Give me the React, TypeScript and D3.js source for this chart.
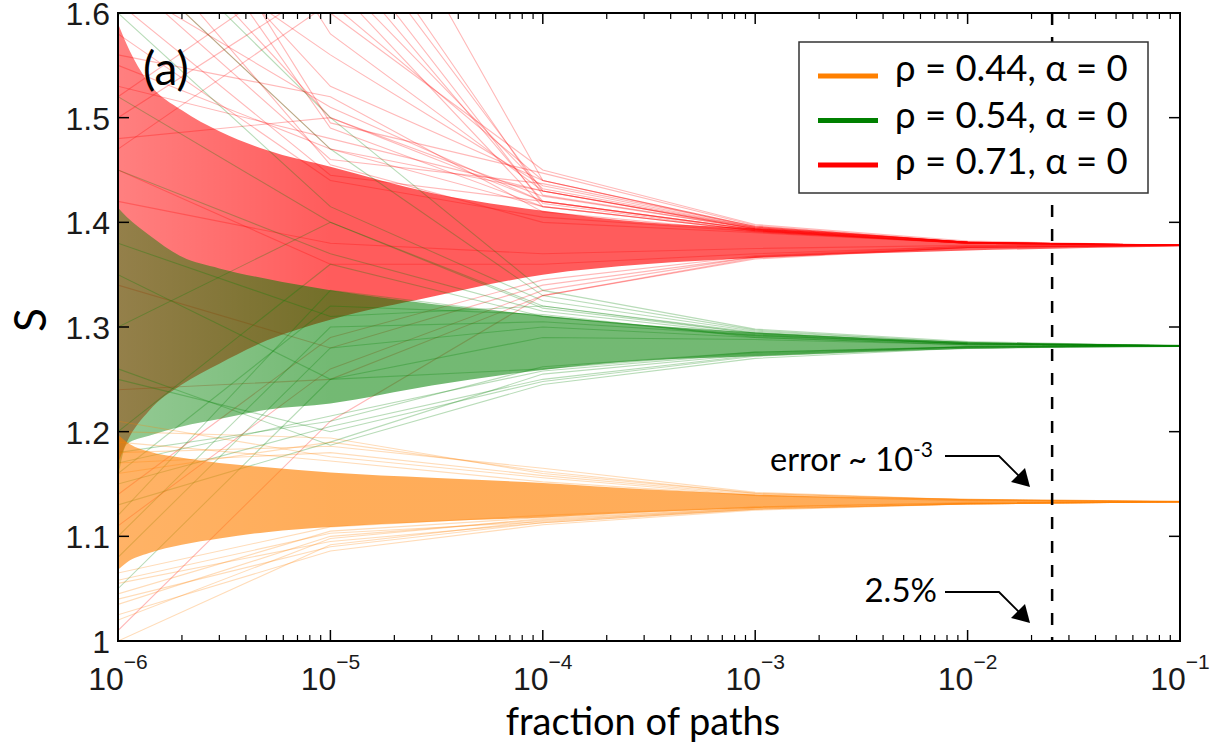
import * as d3 from "d3";

const width = 1231;
const height = 751;
const plot = { left: 118, top: 13, right: 1180, bottom: 641 };

// x decades where every path has a value
const decades = [1e-6, 1e-5, 1e-4, 1e-3, 1e-2, 1e-1];
const decadeExp = ["\u22126", "\u22125", "\u22124", "\u22123", "\u22122", "\u22121"];
const yTicks = [1, 1.1, 1.2, 1.3, 1.4, 1.5, 1.6];
const yTickLabels = ["1", "1.1", "1.2", "1.3", "1.4", "1.5", "1.6"];

// envelope of the whole bundle of paths
const envX = [1e-6, 1.1e-6, 1.4e-6, 2e-6, 3e-6, 5e-6, 1e-5, 3e-5, 1e-4, 3e-4, 1e-3, 1e-2, 1e-1];
const redUpper = [1.59, 1.57, 1.533, 1.507, 1.487, 1.469, 1.453, 1.428, 1.411, 1.4, 1.394, 1.382, 1.379];
const redLower = [1.17, 1.19, 1.22, 1.245, 1.265, 1.287, 1.307, 1.329, 1.35, 1.36, 1.366, 1.373, 1.377];
const greenUpper = [1.414, 1.405, 1.388, 1.367, 1.356, 1.346, 1.335, 1.322, 1.311, 1.302, 1.295, 1.286, 1.283];
const greenLower = [1.155, 1.188, 1.196, 1.205, 1.212, 1.221, 1.227, 1.244, 1.259, 1.268, 1.272, 1.279, 1.281];
const orangeUpper = [1.197, 1.19, 1.181, 1.175, 1.17, 1.166, 1.161, 1.156, 1.151, 1.145, 1.14, 1.136, 1.134];
const orangeLower = [1.068, 1.075, 1.084, 1.092, 1.098, 1.104, 1.109, 1.114, 1.118, 1.123, 1.127, 1.131, 1.132];

// stray paths, values at the decades
const redPaths = [
  [1.72, 1.5, 1.425, 1.394, 1.381, 1.378],
  [1.78, 1.49, 1.415, 1.392, 1.38, 1.378],
  [1.66, 1.47, 1.43, 1.395, 1.381, 1.378],
  [1.64, 1.46, 1.437, 1.396, 1.381, 1.378],
  [1.82, 1.495, 1.447, 1.397, 1.381, 1.378],
  [1.61, 1.445, 1.42, 1.393, 1.38, 1.378],
  [1.95, 1.72, 1.426, 1.394, 1.381, 1.378],
  [2.05, 1.68, 1.418, 1.392, 1.38, 1.378],
  [1.88, 1.64, 1.432, 1.395, 1.381, 1.378],
  [1.5, 1.63, 1.415, 1.392, 1.38, 1.378],
  [1.47, 1.61, 1.44, 1.396, 1.381, 1.378],
  [1.56, 1.52, 1.41, 1.391, 1.38, 1.378],
  [1.53, 1.48, 1.43, 1.394, 1.381, 1.378],
  [1.69, 1.455, 1.4, 1.39, 1.38, 1.378],
  [1.58, 1.44, 1.405, 1.391, 1.38, 1.378],
  [1.75, 1.53, 1.44, 1.395, 1.381, 1.378],
  [1.9, 1.58, 1.43, 1.394, 1.381, 1.378],
  [1.63, 1.51, 1.42, 1.393, 1.381, 1.378],
  [1.85, 1.6, 1.45, 1.398, 1.382, 1.378],
  [1.7, 1.56, 1.435, 1.395, 1.381, 1.378],
  [1.55, 1.47, 1.415, 1.392, 1.38, 1.378],
  [2.2, 1.8, 1.44, 1.396, 1.381, 1.378],
  [1.6, 1.7, 1.43, 1.394, 1.381, 1.378],
  [1.52, 1.66, 1.42, 1.393, 1.38, 1.378],
  [1.48, 1.5, 1.42, 1.393, 1.38, 1.378],
  [1.01, 1.21, 1.33, 1.365, 1.376, 1.378],
  [1.11, 1.26, 1.335, 1.367, 1.376, 1.378],
  [1.14, 1.29, 1.345, 1.368, 1.377, 1.378],
  [1.24, 1.25, 1.33, 1.366, 1.376, 1.378],
  [1.34, 1.28, 1.34, 1.367, 1.376, 1.378],
  [1.45, 1.36, 1.36, 1.37, 1.377, 1.378],
  [1.42, 1.38, 1.37, 1.375, 1.378, 1.378],
];
const greenPaths = [
  [1.6, 1.415, 1.325, 1.296, 1.285, 1.282],
  [1.66, 1.47, 1.33, 1.297, 1.285, 1.282],
  [1.7, 1.5, 1.335, 1.298, 1.286, 1.282],
  [1.52, 1.4, 1.318, 1.294, 1.285, 1.282],
  [1.45, 1.37, 1.315, 1.293, 1.284, 1.282],
  [1.1, 1.3, 1.305, 1.292, 1.284, 1.282],
  [1.08, 1.28, 1.3, 1.29, 1.283, 1.282],
  [1.12, 1.335, 1.31, 1.291, 1.284, 1.282],
  [1.16, 1.32, 1.312, 1.29, 1.283, 1.282],
  [1.05, 1.25, 1.29, 1.288, 1.283, 1.282],
  [1.2, 1.36, 1.31, 1.292, 1.284, 1.282],
  [1.3, 1.4, 1.32, 1.294, 1.284, 1.282],
  [1.13, 1.19, 1.255, 1.274, 1.281, 1.282],
  [1.15, 1.205, 1.25, 1.273, 1.281, 1.282],
  [1.18, 1.21, 1.262, 1.276, 1.281, 1.282],
  [1.26, 1.187, 1.245, 1.27, 1.28, 1.282],
  [1.17, 1.215, 1.258, 1.275, 1.281, 1.282],
  [1.25, 1.2, 1.248, 1.272, 1.28, 1.282],
  [1.38, 1.31, 1.32, 1.295, 1.284, 1.282],
  [1.35, 1.25, 1.26, 1.276, 1.281, 1.282],
];
const orangePaths = [
  [1.0, 1.092, 1.115, 1.126, 1.131, 1.133],
  [1.02, 1.098, 1.117, 1.127, 1.131, 1.133],
  [1.035, 1.1, 1.116, 1.127, 1.131, 1.133],
  [1.045, 1.105, 1.118, 1.128, 1.132, 1.133],
  [1.055, 1.095, 1.113, 1.126, 1.131, 1.133],
  [1.065, 1.109, 1.12, 1.128, 1.132, 1.133],
  [1.025, 1.086, 1.111, 1.125, 1.131, 1.133],
  [1.04, 1.09, 1.113, 1.126, 1.131, 1.133],
  [1.058, 1.103, 1.114, 1.127, 1.131, 1.133],
  [1.2, 1.194, 1.16, 1.141, 1.135, 1.133],
  [1.18, 1.186, 1.165, 1.142, 1.135, 1.133],
  [1.17, 1.18, 1.158, 1.14, 1.135, 1.133],
  [1.21, 1.176, 1.156, 1.139, 1.134, 1.133],
  [1.16, 1.19, 1.162, 1.141, 1.135, 1.133],
  [1.19, 1.172, 1.152, 1.139, 1.134, 1.133],
];

const legendLabels = ["\u03c1 = 0.44, \u03b1 = 0", "\u03c1 = 0.54, \u03b1 = 0", "\u03c1 = 0.71, \u03b1 = 0"];
const legendColors = ["#ff8000", "#008000", "#ff0000"];
const cutoff = 0.025;

const x = d3.scaleLog().domain([1e-6, 1e-1]).range([plot.left, plot.right]);
const y = d3.scaleLinear().domain([1, 1.6]).range([plot.bottom, plot.top]);

// bundles are thinner (lighter) at the far left, denser further right
const series = [
  { id: "red", color: "#ff0000", upper: redUpper, lower: redLower, op0: 0.5, op1: 0.64, paths: redPaths },
  { id: "green", color: "#008000", upper: greenUpper, lower: greenLower, op0: 0.42, op1: 0.55, paths: greenPaths },
  { id: "orange", color: "#ff8000", upper: orangeUpper, lower: orangeLower, op0: 0.6, op1: 0.65, paths: orangePaths },
];

const minorTicks: number[] = [];
decades.slice(0, -1).forEach((d) => {
  for (let m = 2; m <= 9; m++) minorTicks.push(d * m);
});

const sans = "Lato, 'Open Sans', sans-serif";
const helv = "'Liberation Sans', Arial, sans-serif";

function App() {
  const line = d3
    .line<number>()
    .x((_, i) => x(decades[i]))
    .y((d) => y(d));

  const band = (upper: number[], lower: number[]) =>
    d3
      .area<number>()
      .x((_, i) => x(envX[i]))
      .y0((_, i) => y(lower[i]))
      .y1((d) => y(d))
      .curve(d3.curveMonotoneX)(upper);

  const xc = x(cutoff);

  return (
    <svg width={width} height={height} style={{ position: "absolute", left: 0, top: 0, background: "#fff" }}>
      <defs>
        <clipPath id="plotclip">
          <rect x={plot.left} y={plot.top} width={plot.right - plot.left} height={plot.bottom - plot.top} />
        </clipPath>
        {series.map((s) => (
          <linearGradient key={s.id} id={"g-" + s.id} gradientUnits="userSpaceOnUse" x1={x(1e-6)} x2={x(1e-5)} y1={0} y2={0}>
            <stop offset="0" stopColor={s.color} stopOpacity={s.op0} />
            <stop offset="1" stopColor={s.color} stopOpacity={s.op1} />
          </linearGradient>
        ))}
      </defs>

      <g clipPath="url(#plotclip)">
        {series.map((s) => (
          <g key={s.id}>
            <path d={band(s.upper, s.lower) || ""} fill={`url(#g-${s.id})`} />
            {s.paths.map((p, j) => (
              <path key={j} d={line(p) || ""} fill="none" stroke={s.color} strokeOpacity={0.28} strokeWidth={1.1} />
            ))}
          </g>
        ))}
      </g>

      {/* 2.5% cutoff */}
      <line x1={xc} x2={xc} y1={plot.top} y2={plot.bottom} stroke="#000" strokeWidth={2.5} strokeDasharray="12,12" />

      {/* axes box */}
      <rect x={plot.left} y={plot.top} width={plot.right - plot.left} height={plot.bottom - plot.top} fill="none" stroke="#000" strokeWidth={2} />

      {decades.map((d, i) => (
        <g key={"xt" + i}>
          <line x1={x(d)} x2={x(d)} y1={plot.bottom} y2={plot.bottom - 11} stroke="#000" strokeWidth={1.5} />
          <line x1={x(d)} x2={x(d)} y1={plot.top} y2={plot.top + 11} stroke="#000" strokeWidth={1.5} />
          <text x={x(d)} y={690} textAnchor="middle" fontFamily={helv} fontSize={32} fill="#1a1a1a">
            10<tspan dy={-21} fontSize={21}>{decadeExp[i]}</tspan>
          </text>
        </g>
      ))}
      {minorTicks.map((d, i) => (
        <g key={"mt" + i}>
          <line x1={x(d)} x2={x(d)} y1={plot.bottom} y2={plot.bottom - 6} stroke="#000" strokeWidth={1.2} />
          <line x1={x(d)} x2={x(d)} y1={plot.top} y2={plot.top + 6} stroke="#000" strokeWidth={1.2} />
        </g>
      ))}
      {yTicks.map((t, i) => (
        <g key={"yt" + i}>
          <line x1={plot.left} x2={plot.left + 11} y1={y(t)} y2={y(t)} stroke="#000" strokeWidth={1.5} />
          <line x1={plot.right} x2={plot.right - 11} y1={y(t)} y2={y(t)} stroke="#000" strokeWidth={1.5} />
          <text x={110} y={y(t) + 12} textAnchor="end" fontFamily={helv} fontSize={32} fill="#1a1a1a">
            {yTickLabels[i]}
          </text>
        </g>
      ))}

      <text x={643} y={735} textAnchor="middle" fontFamily={sans} fontSize={38} fill="#000">
        fraction of paths
      </text>
      <text transform="translate(46,320) rotate(-90)" textAnchor="middle" fontFamily={sans} fontSize={44} fill="#000">
        S
      </text>
      <text x={143} y={85} fontFamily={sans} fontSize={46} fill="#000">
        (a)
      </text>

      {/* legend */}
      <rect x={799} y={42} width={349} height={151} fill="#fff" stroke="#333" strokeWidth={1.5} />
      {legendLabels.map((lab, i) => (
        <g key={"lg" + i}>
          <line x1={818} x2={878} y1={76 + i * 44.5} y2={76 + i * 44.5} stroke={legendColors[i]} strokeWidth={5} />
          <text x={895} y={81 + i * 46.5} fontFamily={sans} fontSize={36.5} fill="#000">
            {lab}
          </text>
        </g>
      ))}

      {/* annotations */}
      <text x={913} y={471} textAnchor="end" fontFamily={sans} fontSize={32.5} fill="#000">
        error ~ 10
      </text>
      <text x={913} y={457} fontFamily={sans} fontSize={21} fill="#000">
        -3
      </text>
      <text x={937} y={602} textAnchor="end" fontFamily={sans} fontSize={33} fill="#000">
        2.5%
      </text>
      {[456, 592].map((ay, i) => (
        <g key={"ar" + i}>
          <path d={`M945,${ay} H999 L1022,${ay + 23}`} fill="none" stroke="#000" strokeWidth={1.8} />
          <path d={`M1030,${ay + 31} L1011,${ay + 26} L1025,${ay + 12} Z`} fill="#000" />
        </g>
      ))}
    </svg>
  );
}

export default App;
